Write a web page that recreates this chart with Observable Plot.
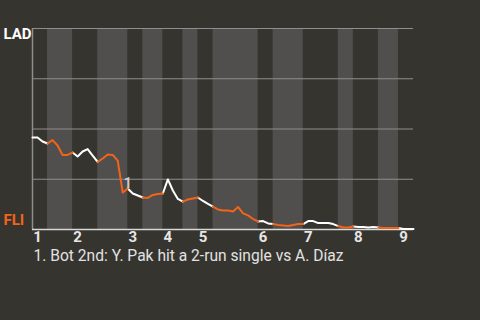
<!DOCTYPE html>
<html><head><meta charset="utf-8">
<script src="https://cdn.jsdelivr.net/npm/d3@7"></script>
<script src="https://cdn.jsdelivr.net/npm/@observablehq/plot@0.6"></script>
<style>
html,body{margin:0;padding:0;background:#36342f;}
</style></head><body><div id="chart"></div>
<script>
const awayTeam = "LAD";
const homeTeam = "FLI";
// first event index of each half inning (top 1, bot 1, top 2, ...)
const halfStarts = [0,3,8,13,19,22,26,30,33,36,45,48,54,61,64,69,73];
const lastEvent = 76;
const inningLabels = ["1","2","3","4","5","6","7","8","9"];
// LAD win probability (%) after each event
const ladWinPct = [
  45.8,45.8,43.8,42.8,44.5,41.8,37.1,37.1,38.3,36.3,
  38.8,40.0,36.8,33.6,35.3,37.3,37.1,34.3,18.4,20.4,
  17.9,16.9,15.9,15.7,17.2,17.7,17.9,24.9,19.4,15.2,
  13.9,14.9,15.4,15.9,14.2,12.7,11.4,10.0,9.5,9.5,
  9.0,11.2,8.0,7.0,5.2,4.0,4.2,3.0,2.7,2.2,
  2.0,1.7,2.2,2.7,2.7,4.2,4.2,3.2,3.2,3.2,
  2.7,1.7,1.0,1.0,1.5,1.2,1.2,1.0,1.2,1.0,
  0.7,0.7,0.7,0.7,0.3,0.2,0.2
];
const noteEvents = [18];
const noteLabels = ["1"];
const noteTexts = ["Bot 2nd: Y. Pak hit a 2-run single vs A. Díaz"];

const orange = "#f26419";
const halfEnds = halfStarts.map((s, h) => h + 1 < halfStarts.length ? halfStarts[h + 1] : lastEvent);
const bands = halfStarts.map((s, h) => ({x1: s, x2: halfEnds[h], bottom: h % 2 === 1})).filter(d => d.bottom);
const segs = [];
halfStarts.forEach((s, h) => {
  for (let i = s; i <= halfEnds[h]; i++) segs.push({event: i, wp: ladWinPct[i], half: h, top: h % 2 === 0});
});
const topStarts = halfStarts.filter((s, h) => h % 2 === 0);
const notes = noteEvents.map((e, i) => ({event: e, wp: ladWinPct[e], label: noteLabels[i], text: noteTexts[i]}));

const chart = Plot.plot({
  width: 480, height: 320,
  marginLeft: 32, marginRight: 67, marginTop: 28, marginBottom: 91,
  style: {background: "#36342f", color: "#e2e2e2", fontFamily: "Roboto, sans-serif"},
  x: {domain: [0, lastEvent], axis: null},
  y: {domain: [0, 100], axis: null},
  marks: [
    Plot.rect(bands, {x1: "x1", x2: "x2", y1: 0, y2: 100, fill: "#504f4d"}),
    Plot.ruleY([25, 50, 75, 100], {stroke: "#8e8e8e", strokeWidth: 1}),
    Plot.ruleX([0], {stroke: "#8e8e8e", strokeWidth: 1.5}),
    Plot.ruleY([0], {stroke: "#d8d8d8", strokeWidth: 1.5}),
    Plot.line(segs.filter(d => d.top), {x: "event", y: "wp", z: "half", stroke: "#ffffff", strokeWidth: 2, curve: "linear"}),
    Plot.line(segs.filter(d => !d.top), {x: "event", y: "wp", z: "half", stroke: orange, strokeWidth: 2, curve: "linear"}),
    Plot.text(notes, {x: "event", y: "wp", text: "label", dx: 5, dy: -9, fill: "#cfcfcf", fontSize: 14, fontWeight: "bold"}),
    Plot.axisX(topStarts, {tickFormat: d => inningLabels[topStarts.indexOf(d)], tickSize: 0, tickPadding: 2, dx: 5, fontSize: 15, fontWeight: "bold", fill: "#e6e6e6"}),
    Plot.text([awayTeam], {frameAnchor: "top-left", text: d => d, textAnchor: "start", lineAnchor: "top", dx: -29, dy: 0, fill: "#ffffff", fontSize: 15, fontWeight: "bold"}),
    Plot.text([homeTeam], {frameAnchor: "bottom-left", text: d => d, textAnchor: "start", lineAnchor: "bottom", dx: -29, dy: -5, fill: orange, fontSize: 15, fontWeight: "bold"}),
    Plot.text(notes, {frameAnchor: "bottom-left", text: d => d.label + ". " + d.text, textAnchor: "start", lineAnchor: "bottom", dx: 1, dy: 31, fill: "#e2e2e2", fontSize: 15.6})
  ]
});
document.getElementById("chart").appendChild(chart);
</script></body></html>
